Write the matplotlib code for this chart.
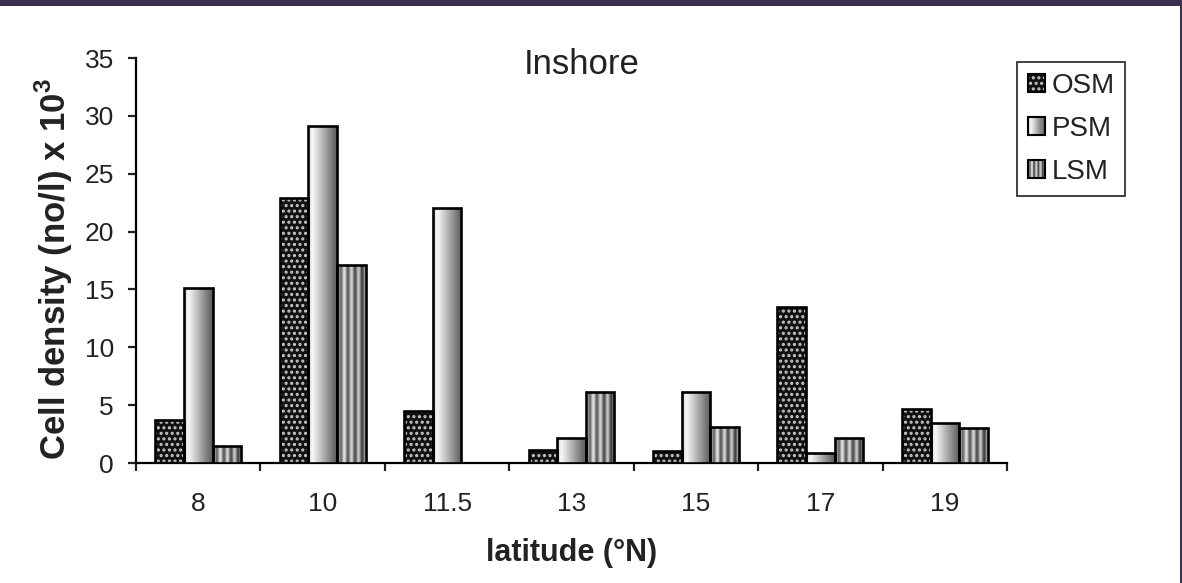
import numpy as np
import matplotlib
matplotlib.use('Agg')
import matplotlib.pyplot as plt
from matplotlib.patches import Rectangle, Patch
from matplotlib.legend_handler import HandlerBase

plt.rcParams['font.family'] = ['Liberation Sans', 'DejaVu Sans']
plt.rcParams['mathtext.fontset'] = 'custom'
plt.rcParams['mathtext.rm'] = 'Liberation Sans'
plt.rcParams['mathtext.bf'] = 'Liberation Sans:bold'
plt.rcParams['hatch.linewidth'] = 1.5

# cell density (x10^3 cells per litre) at each inshore latitude
latitudes = ['8', '10', '11.5', '13', '15', '17', '19']
osm = [3.7, 22.9, 4.5, 1.1, 1.0, 13.5, 4.7]
psm = [15.1, 29.1, 22.0, 2.2, 6.1, 0.9, 3.5]
lsm = [1.5, 17.1, 0.0, 6.1, 3.1, 2.2, 3.0]

# shading used to fill the PSM and LSM bars
t = np.linspace(0, 1, 64)
psm_shade = np.interp(t, [0, 0.15, 1], [0.82, 0.97, 0.35])
lsm_shade = np.clip(0.68 - 0.2 * t + 0.25 * np.cos(2 * np.pi * 4 * t), 0, 1)


class SwatchHandler(HandlerBase):
    def __init__(self, shades=None, hatch=None):
        super().__init__()
        self.shades = shades
        self.hatch = hatch

    def create_artists(self, legend, orig_handle, xdescent, ydescent,
                       width, height, fontsize, trans):
        arts = []
        x0, y0 = -xdescent, -ydescent
        if self.hatch:
            arts.append(Rectangle((x0, y0), width, height, facecolor='#111111',
                                  edgecolor='#c8c8c8', lw=0, hatch=self.hatch,
                                  transform=trans))
        else:
            n = len(self.shades)
            for i, s in enumerate(self.shades):
                arts.append(Rectangle((x0 + i * width / n, y0), width / n, height,
                                      facecolor=str(s), edgecolor='none',
                                      transform=trans))
        arts.append(Rectangle((x0, y0), width, height, facecolor='none',
                              edgecolor='black', lw=1.5, transform=trans))
        return arts


fig = plt.figure(figsize=(11.82, 5.83), dpi=100)
ax = fig.add_axes([0.1151, 0.2058, 0.7369, 0.6947])

x = np.arange(len(latitudes))
w = 0.23

# OSM: black fill with light dots
ax.bar(x - w, osm, w, color='#111111', edgecolor='#c8c8c8', lw=0,
       hatch='...', zorder=2)
ax.bar(x - w, osm, w, color='none', edgecolor='black', lw=1.9, zorder=4)

# PSM and LSM: shaded fills clipped to each bar
for offset, vals, shade in [(0, psm, psm_shade), (w, lsm, lsm_shade)]:
    bars = ax.bar(x + offset, vals, w, color='none', edgecolor='black',
                  lw=1.9, zorder=4)
    for rect in bars:
        if rect.get_height() <= 0:
            continue
        x0 = rect.get_x()
        im = ax.imshow(shade[np.newaxis, :], cmap='gray', vmin=0, vmax=1,
                       extent=(x0, x0 + rect.get_width(), 0, rect.get_height()),
                       aspect='auto', interpolation='bilinear', zorder=3)
        im.set_clip_path(rect)

ax.set_xlim(-0.5, len(latitudes) - 0.5)
ax.set_ylim(0, 35)
ax.set_yticks(range(0, 36, 5))

ax.set_xticks(np.arange(-0.5, len(latitudes), 1))
ax.set_xticklabels([])
ax.set_xticks(x, minor=True)
ax.set_xticklabels(latitudes, minor=True)

for side in ['top', 'right']:
    ax.spines[side].set_visible(False)
for side in ['left', 'bottom']:
    ax.spines[side].set_linewidth(1.6)

ax.tick_params(axis='both', which='major', direction='out', length=6,
               width=1.6, labelsize=19, colors='#222222')
ax.tick_params(axis='y', pad=10)
ax.tick_params(axis='x', which='minor', length=0, pad=21, labelsize=19,
               colors='#222222')

ax.set_ylabel(r'Cell density (no/l) x 10$^{\mathbf{3}}$', fontsize=25,
              fontweight='bold', color='#222222')
ax.yaxis.set_label_coords(-0.07, 0.48)
ax.set_xlabel('latitude (°N)', fontsize=22, fontweight='bold', color='#222222')
ax.xaxis.set_label_coords(0.5, -0.185)

ax.text(0.512, 0.983, 'Inshore', transform=ax.transAxes, ha='center',
        va='center', fontsize=25, color='#222222')

h_osm, h_psm, h_lsm = Patch(), Patch(), Patch()
leg = fig.legend([h_osm, h_psm, h_lsm], ['OSM', 'PSM', 'LSM'],
                 loc='upper left', bbox_to_anchor=(0.8604, 0.8937),
                 borderaxespad=0, fontsize=20, fancybox=False,
                 handlelength=0.62, handleheight=0.62, handletextpad=0.25,
                 labelspacing=0.62, borderpad=0.38,
                 handler_map={h_osm: SwatchHandler(hatch='...'),
                              h_psm: SwatchHandler(shades=psm_shade[::4]),
                              h_lsm: SwatchHandler(shades=lsm_shade[::2])})
leg.get_frame().set_edgecolor('black')
leg.get_frame().set_linewidth(1.3)
for txt in leg.get_texts():
    txt.set_color('#222222')

# dark border along the top and right edge
fig.patches.append(Rectangle((0, 1 - 5.5 / 583), 1, 5.5 / 583, transform=fig.transFigure,
                             facecolor='#3a3150', edgecolor='none', zorder=10))
fig.patches.append(Rectangle((1 - 2 / 1182, 0), 2 / 1182, 1, transform=fig.transFigure,
                             facecolor='#3a3150', edgecolor='none', zorder=10))

fig.savefig('out.png', dpi=100)
